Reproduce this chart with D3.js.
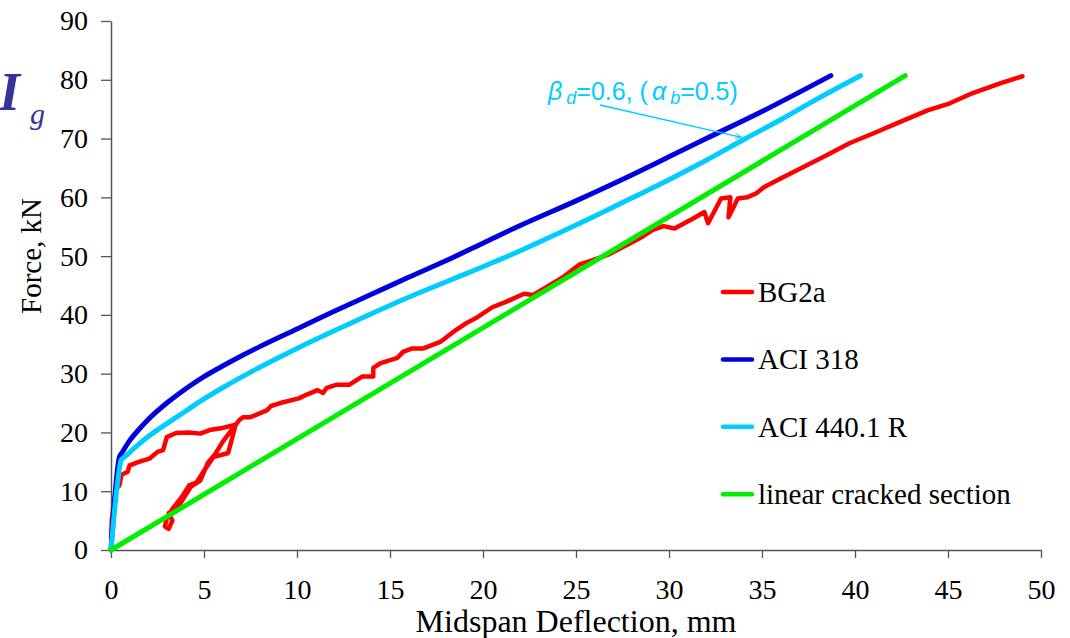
<!DOCTYPE html>
<html>
<head>
<meta charset="utf-8">
<script src="https://cdn.jsdelivr.net/npm/d3@7"></script>
<style>
  body { margin: 0; background: #fff; }
  svg { display: block; }
</style>
</head>
<body>
<div id="chart"></div>
<script>
// deflection (mm), force (kN)
let bg2a = [
  [0,2],[0.05,5.4],[0.2,9],[0.3,10.5],[0.45,11],[0.57,12.8],[0.9,13.3],[1.0,14.4],[1.5,15],
  [2.1,15.6],[2.5,16.7],[2.8,17],[3.0,19.2],[3.5,19.9],[4.2,20],[4.8,19.8],[5.3,20.4],[5.9,20.7],[6.7,21.3],
  [6.3,16.5],[5.5,15.8],[5.0,13.5],[4.6,11.5],[4.2,11],[3.8,9],[3.3,7],[3.0,5.5],[2.9,4.0],[3.1,3.6],
  [3.3,5],[3.1,6.3],[3.5,6.6],[3.8,8.3],[4.3,10.8],[4.8,11.8],[5.2,14.8],[5.6,16.3],[6.0,18.4],[6.5,20.5],[6.9,22.1],
  [7.1,22.6],[7.5,22.6],[8.4,23.8],[8.6,24.5],[9.1,25],[10.1,25.8],[10.5,26.4],[11.1,27.2],[11.4,26.7],
  [11.6,27.6],[12.1,28.1],[12.8,28.1],[13.5,29.5],[14.1,29.5],[14.1,31],[14.5,31.8],[15.4,32.7],[15.7,33.7],
  [16.2,34.3],[16.8,34.3],[17.7,35.4],[18.4,37.1],[19.1,38.6],[19.7,39.6],[20.5,41.3],[21.3,42.3],
  [22.2,43.6],[22.7,43.4],[23.4,44.7],[24.3,46.4],[25.2,48.6],[25.9,49.3],[26.7,50.2],[27.5,51.5],
  [28.4,53],[29.1,54.4],[29.7,55.1],[30.3,54.7],[31.3,56.4],[31.9,57.5],[32.1,55.6],[32.8,59.8],
  [33.3,60.0],[33.2,56.6],[33.7,59.8],[34.2,60],[34.7,60.7],[35.1,61.7],[36.0,63.2],[37.2,65.1],
  [38.5,67.2],[39.7,69.2],[41.0,70.9],[42.4,72.8],[43.9,74.8],[45.1,76],[46.3,77.7],[47.8,79.4],[49.0,80.6]
];
let aci318 = [
  [0,0],[0.45,15.8],[0.6,16.6],[1,18.6],[1.5,20.5],[2,22.2],[3,25],[4,27.4],[5,29.5],[6,31.3],[7,33],
  [8,34.6],[10,37.6],[12,40.6],[14,43.5],[16,46.4],[18,49.2],[20,52.2],[22,55.2],[25,59.4],[28,63.8],
  [30,66.9],[32,70],[35,74.6],[38.7,80.7]
];
let aci440 = [
  [0,0],[0.3,10],[0.55,15.3],[0.8,16],[1,16.6],[1.5,18],[2,19.3],[3,21.5],[4,23.6],[5,25.7],[6,27.6],
  [8,31.1],[10,34.3],[12,37.3],[14,40.2],[16,43],[18,45.6],[20,48.2],[22,50.9],[24,53.8],[26,56.8],
  [28,59.9],[30,63],[32,66.3],[34,69.8],[36,73.2],[38,76.8],[40.3,80.7]
];
let cracked = [[0,0],[42.7,80.7]];

let seriesNames = ["BG2a", "ACI 318", "ACI 440.1 R", "linear cracked section"];
let seriesColors = ["#ff0000", "#0000dd", "#00ccff", "#00ee00"];
let xTicks = [0,5,10,15,20,25,30,35,40,45,50];
let yTicks = [0,10,20,30,40,50,60,70,80,90];

let width = 1070, height = 638;
let mLeft = 111, mTop = 21, mRight = 1041, mBottom = 550;

let svg = d3.select("#chart").append("svg")
  .attr("width", width)
  .attr("height", height);

let x = d3.scaleLinear().domain([0, 50]).range([mLeft, mRight]);
let y = d3.scaleLinear().domain([0, 90]).range([mBottom, mTop]);

let serif = "'Liberation Serif', 'Times New Roman', serif";

// axes
let xAxis = svg.append("g")
  .attr("transform", `translate(0,${mBottom})`)
  .call(d3.axisBottom(x).tickValues(xTicks).tickSize(8).tickPadding(21.5).tickSizeOuter(0));
let yAxis = svg.append("g")
  .attr("transform", `translate(${mLeft},0)`)
  .call(d3.axisLeft(y).tickValues(yTicks).tickSize(10).tickPadding(13).tickSizeOuter(0));

[xAxis, yAxis].forEach(function (g) {
  g.select(".domain").attr("stroke", "#555").attr("stroke-width", 1.5);
  g.selectAll(".tick line").attr("stroke", "#555").attr("stroke-width", 1.3);
  g.selectAll("text").attr("fill", "#000").style("font-family", serif).style("font-size", "28px");
});

// axis titles
svg.append("text")
  .attr("x", 576).attr("y", 632)
  .attr("text-anchor", "middle")
  .style("font-family", serif).style("font-size", "32px")
  .text("Midspan Deflection, mm");
svg.append("text")
  .attr("transform", "translate(41,256) rotate(-90)")
  .attr("text-anchor", "middle")
  .style("font-family", serif).style("font-size", "29px")
  .text("Force, kN");

// curves
let line = d3.line().x(d => x(d[0])).y(d => y(d[1]));
let smooth = d3.line().x(d => x(d[0])).y(d => y(d[1])).curve(d3.curveMonotoneX);
let allSeries = [bg2a, aci318, aci440, cracked];
allSeries.forEach(function (s, i) {
  svg.append("path")
    .datum(s)
    .attr("d", (i == 1 || i == 2) ? smooth : line)
    .attr("fill", "none")
    .attr("stroke", seriesColors[i])
    .attr("stroke-width", i == 0 ? 4.5 : 5)
    .attr("stroke-linejoin", "round")
    .attr("stroke-linecap", "round");
});

// legend
let legend = svg.append("g");
seriesNames.forEach(function (name, i) {
  let ly = 292 + i * 67.4;
  legend.append("line")
    .attr("x1", 723).attr("x2", 752).attr("y1", ly).attr("y2", ly)
    .attr("stroke", seriesColors[i]).attr("stroke-width", 4.5)
    .attr("stroke-linecap", "round");
  legend.append("text")
    .attr("x", 758).attr("y", ly + 10)
    .style("font-family", serif).style("font-size", "29px")
    .text(name);
});

// I_g label
let ig = svg.append("text")
  .attr("x", -1).attr("y", 110)
  .attr("fill", "#333399")
  .style("font-family", serif).style("font-style", "italic");
ig.append("tspan").style("font-size", "54px").style("font-weight", "bold").text("I");
ig.append("tspan").attr("dx", 10).attr("dy", 14).style("font-size", "30px").text("g");

// annotation
let sans = "'Liberation Sans', Arial, sans-serif";
let cyan = "#00ccff";
let ann = svg.append("text")
  .attr("x", 548).attr("y", 100)
  .attr("fill", cyan)
  .style("font-family", sans).style("font-size", "25px");
ann.append("tspan").style("font-style", "italic").text("β");
ann.append("tspan").attr("dx", 4).attr("dy", 4).style("font-size", "18px").style("font-style", "italic").text("d");
ann.append("tspan").attr("dy", -4).text("=0.6, (");
ann.append("tspan").attr("dx", 4).style("font-style", "italic").text("α");
ann.append("tspan").attr("dx", 4).attr("dy", 4).style("font-size", "18px").style("font-style", "italic").text("b");
ann.append("tspan").attr("dy", -4).text("=0.5)");

svg.append("defs").append("marker")
  .attr("id", "arr")
  .attr("viewBox", "0 0 10 10")
  .attr("refX", 10).attr("refY", 5)
  .attr("markerWidth", 8).attr("markerHeight", 6)
  .attr("orient", "auto")
  .attr("markerUnits", "userSpaceOnUse")
  .append("path").attr("d", "M0,1 L10,5 L0,9").attr("fill", "none").attr("stroke", cyan).attr("stroke-width", 1.5);

svg.append("line")
  .attr("x1", 600).attr("y1", 105)
  .attr("x2", x(33.9)).attr("y2", y(70.2))
  .attr("stroke", cyan).attr("stroke-width", 1.4)
  .attr("marker-end", "url(#arr)");
</script>
</body>
</html>
